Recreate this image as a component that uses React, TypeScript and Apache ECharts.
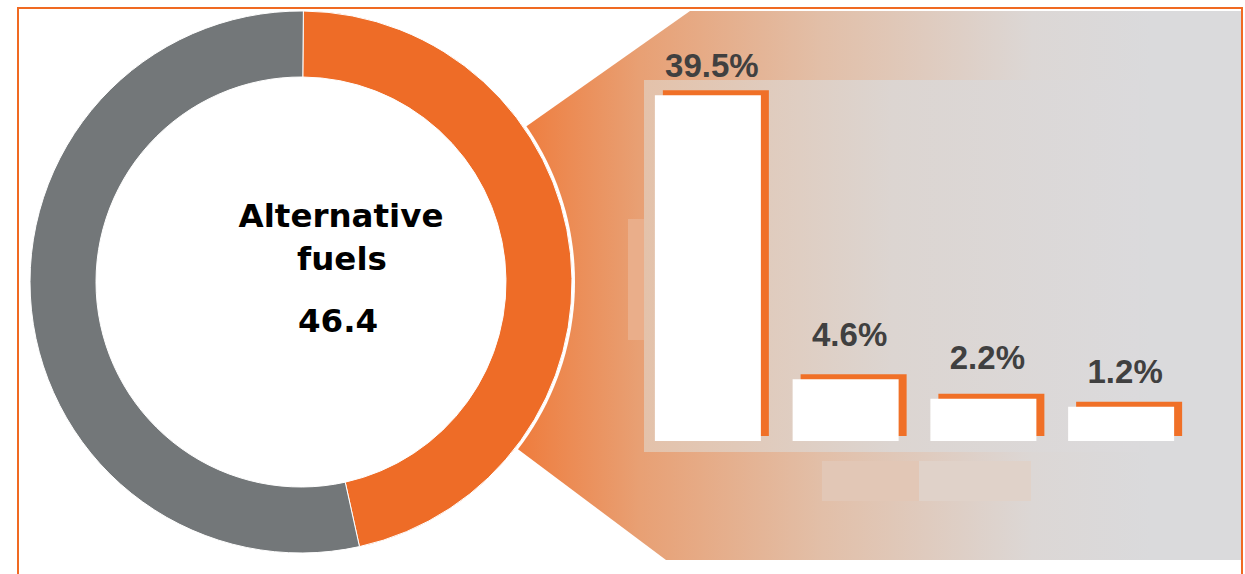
import { useEffect, useRef } from 'react';
import * as echarts from 'echarts';

// ---- data ----
const categories = ['Part 1', 'Part 2', 'Part 3', 'Part 4'];
const sharePct = [39.5, 4.6, 2.2, 1.2];
const donutNames = ['Alternative fuels', 'Other fuels'];
const donutValues = [46.4, 53.6];
const centerTitle = ['Alternative', 'fuels'];
const centerValue = '46.4';

// ---- style ----
const ORANGE = '#EE6C27';
const GRAY = '#737779';
const LABEL_LIFT = [13, 28, 25, 19];
const CENTER_FONT = 'bold 32.5px "DejaVu Sans"';

export default function App() {
  const ref = useRef<HTMLDivElement>(null);
  useEffect(() => {
    const chart = echarts.init(ref.current!, null, { renderer: 'svg' });
    const cx = 301;
    const cy = 282;
    const funnelFill = new echarts.graphic.LinearGradient(515, 0, 1241, 0, [
      { offset: 0, color: '#EF7B3B' },
      { offset: 0.172, color: '#E8A074' },
      { offset: 0.423, color: '#E2BFA8' },
      { offset: 0.712, color: '#DCD7D5' },
      { offset: 0.876, color: '#DADADC' },
      { offset: 1, color: '#DADADC' },
    ], true);
    const panelFill = new echarts.graphic.LinearGradient(644, 0, 1139, 0, [
      { offset: 0, color: '#E4C2AA' },
      { offset: 0.5, color: '#DCD5D1' },
      { offset: 1, color: '#DBDADC' },
    ], true);
    chart.setOption({
      animation: false,
      backgroundColor: '#ffffff',
      graphic: [
        {
          type: 'polygon',
          z: 1,
          silent: true,
          shape: {
            points: [[524, 128], [690, 11], [1241, 11], [1241, 560], [666, 560], [515, 447], [480, 282]],
          },
          style: { fill: funnelFill },
        },
        {
          type: 'rect', z: 2, silent: true,
          shape: { x: 644, y: 80, width: 495, height: 372 },
          style: { fill: panelFill },
        },
        {
          type: 'rect', z: 2, silent: true,
          shape: { x: 628, y: 219, width: 16, height: 121 },
          style: { fill: '#EAAE8A' },
        },
        {
          type: 'rect', z: 2, silent: true,
          shape: { x: 822, y: 461, width: 97, height: 40 },
          style: { fill: '#E2C7B6' },
        },
        {
          type: 'rect', z: 2, silent: true,
          shape: { x: 919, y: 461, width: 112, height: 40 },
          style: { fill: '#E0D2C9' },
        },
        {
          type: 'circle', z: 3, silent: true,
          shape: { cx, cy, r: 274 },
          style: { fill: '#ffffff' },
        },
        {
          type: 'rect', z: 20, silent: true,
          shape: { x: 18, y: 8, width: 1224, height: 620 },
          style: { fill: 'none', stroke: '#F06A22', lineWidth: 2 },
        },
        {
          type: 'text', z: 20, silent: true,
          x: 341, y: 216,
          style: { text: centerTitle[0], font: CENTER_FONT, fill: '#000', align: 'center', verticalAlign: 'middle' },
        },
        {
          type: 'text', z: 20, silent: true,
          x: 342, y: 259,
          style: { text: centerTitle[1], font: CENTER_FONT, fill: '#000', align: 'center', verticalAlign: 'middle' },
        },
        {
          type: 'text', z: 20, silent: true,
          x: 338, y: 320.5,
          style: { text: centerValue, font: CENTER_FONT, fill: '#000', align: 'center', verticalAlign: 'middle' },
        },
      ],
      grid: [
        { left: 639, width: 551, top: 75, height: 366 },
        { left: 647, width: 551, top: 70, height: 366 },
      ],
      xAxis: [
        { type: 'category', data: categories, gridIndex: 0, show: false },
        { type: 'category', data: categories, gridIndex: 1, show: false },
      ],
      yAxis: [
        { type: 'value', gridIndex: 0, min: -3, max: 42, startValue: -3, show: false, splitLine: { show: false } },
        { type: 'value', gridIndex: 1, min: -3, max: 42, startValue: -3, show: false, splitLine: { show: false } },
      ],
      series: [
        {
          type: 'pie',
          z: 5,
          silent: true,
          center: [cx, cy],
          radius: [205, 271],
          startAngle: 89.5,
          clockwise: true,
          label: { show: false },
          labelLine: { show: false },
          emphasis: { disabled: true },
          itemStyle: { borderColor: '#ffffff', borderWidth: 1 },
          data: donutNames.map((n, i) => ({
            name: n,
            value: donutValues[i],
            itemStyle: { color: i === 0 ? ORANGE : GRAY },
          })),
        },
        {
          type: 'bar',
          z: 4,
          silent: true,
          xAxisIndex: 1,
          yAxisIndex: 1,
          barWidth: 106,
          itemStyle: { color: '#F07027' },
          data: sharePct,
        },
        {
          type: 'bar',
          z: 5,
          silent: true,
          xAxisIndex: 0,
          yAxisIndex: 0,
          barWidth: 106,
          itemStyle: { color: '#ffffff' },
          label: {
            show: true,
            position: 'top',
            formatter: '{c}%',
            color: '#404040',
            fontFamily: 'Liberation Sans',
            fontWeight: 'bold',
            fontSize: 33,
            offset: [4, 0],
          },
          data: sharePct.map((v, i) => ({ value: v, label: { distance: LABEL_LIFT[i] } })),
        },
      ],
    });
    return () => chart.dispose();
  }, []);
  return (
    <div
      ref={ref}
      style={{ position: 'fixed', left: 0, top: 0, width: 1245, height: 574, background: '#fff' }}
    />
  );
}
